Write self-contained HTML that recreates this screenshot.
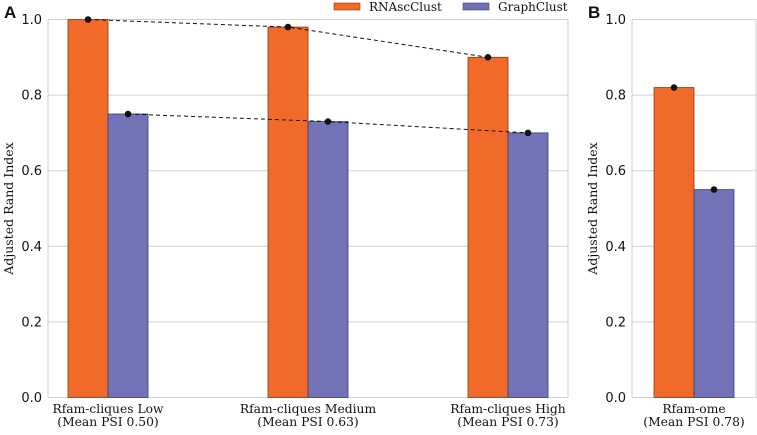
<!DOCTYPE html>
<html><head><meta charset="utf-8"><style>
body{margin:0;background:#fff;width:757px;height:430px;overflow:hidden}
text{font-family:"DejaVu Serif","Liberation Serif",serif}
.t{font-family:"DejaVu Sans","Liberation Sans",sans-serif;font-size:13px;fill:#111}
</style></head><body>
<svg id="c" width="757" height="430" xmlns="http://www.w3.org/2000/svg"></svg>
<script>
const groupsA = ["Rfam-cliques Low|(Mean PSI 0.50)", "Rfam-cliques Medium|(Mean PSI 0.63)", "Rfam-cliques High|(Mean PSI 0.73)"];
const rnaA = [1.0, 0.98, 0.90];
const graphA = [0.75, 0.73, 0.70];
const groupsB = ["Rfam-ome|(Mean PSI 0.78)"];
const rnaB = [0.82];
const graphB = [0.55];
const ticks = [0.0, 0.2, 0.4, 0.6, 0.8, 1.0];
const NS = "http://www.w3.org/2000/svg";
const svg = document.getElementById('c');
function mk(tag, attrs, parent) {
  const e = document.createElementNS(NS, tag);
  for (const k in attrs) e.setAttribute(k, attrs[k]);
  (parent || svg).appendChild(e);
  return e;
}
const Y0 = 397.5, Y1 = 19.5;
const y = v => Y0 - v * (Y0 - Y1);
function panel(x0, x1, groups, rna, graph, first, spacing, panelLabel, name) {
  const g = mk('g', {});
  
  
  ticks.forEach(t => {
    const l = mk('line', {x1: x0, x2: x1, y1: y(t), y2: y(t), stroke: '#d0d0d0', 'stroke-width': 1}, g);
    
    
    const tx = mk('text', {x: x0 - 6, y: y(t) + 4.5, 'text-anchor': 'end', class: 't'}, g);
    tx.textContent = t.toFixed(1);
    
    
  });
  const fr = mk('rect', {x: x0, y: Y1, width: x1 - x0, height: Y0 - Y1, fill: 'none', stroke: '#cfcfcf'}, g);
  
  
  const bw = 40;
  const ptsR = [], ptsG = [];
  groups.forEach((lab, i) => {
    const cx = first + i * spacing;
    const r = mk('rect', {x: cx - bw, y: y(rna[i]), width: bw, height: Y0 - y(rna[i]), fill: '#f26a29', stroke: '#8a3a15', 'stroke-width': 0.8}, g);
    
    
    const b = mk('rect', {x: cx, y: y(graph[i]), width: bw, height: Y0 - y(graph[i]), fill: '#7173b6', stroke: '#3c3d6a', 'stroke-width': 0.8}, g);
    
    
    ptsR.push([cx - bw / 2, y(rna[i])]);
    ptsG.push([cx + bw / 2, y(graph[i])]);
    const parts = lab.split('|');
    parts.forEach((p, k) => {
      const t = mk('text', {x: cx, y: 413 + k * 13, 'text-anchor': 'middle', 'font-size': 12.3, fill: '#111'}, g);
      t.textContent = p;
      
      
    });
  });
  [ptsR, ptsG].forEach(pts => {
    if (pts.length > 1) {
      const l = mk('polyline', {points: pts.map(p => p.join(',')).join(' '), fill: 'none', stroke: '#111', 'stroke-dasharray': '4,3', 'stroke-width': 1}, g);
      
      
    }
    pts.forEach(p => {
      const c = mk('circle', {cx: p[0], cy: p[1], r: 3.3, fill: '#111'}, g);
      
      
    });
  });
  const yt = mk('text', {x: 0, y: 0, transform: `translate(${x0 - 35},${(Y0 + Y1) / 2}) rotate(-90)`, 'text-anchor': 'middle', 'font-size': 12.5, fill: '#111'}, g);
  yt.textContent = 'Adjusted Rand Index';
  
  
  const pl = mk('text', {x: x0 - 44, y: 18, 'font-size': 17, 'font-weight': 'bold', fill: '#111', style: 'font-family:"Liberation Sans",sans-serif'}, g);
  pl.textContent = panelLabel;
  
  
}
panel(48, 568, groupsA, rnaA, graphA, 108, 200, 'A', 'panel-a');
panel(632, 756, groupsB, rnaB, graphB, 694, 0, 'B', 'panel-b');
const lg = mk('g', {});


[['#f26a29', '#8a3a15', 'RNAscClust', 334], ['#7173b6', '#3c3d6a', 'GraphClust', 463]].forEach(d => {
  const s = mk('rect', {x: d[3], y: 3, width: 26, height: 7, fill: d[0], stroke: d[1], 'stroke-width': 0.6}, lg);
  
  
  const t = mk('text', {x: d[3] + 35, y: 11, 'font-size': 12, fill: '#111'}, lg);
  t.textContent = d[2];
  
  
});
</script>
</body></html>
